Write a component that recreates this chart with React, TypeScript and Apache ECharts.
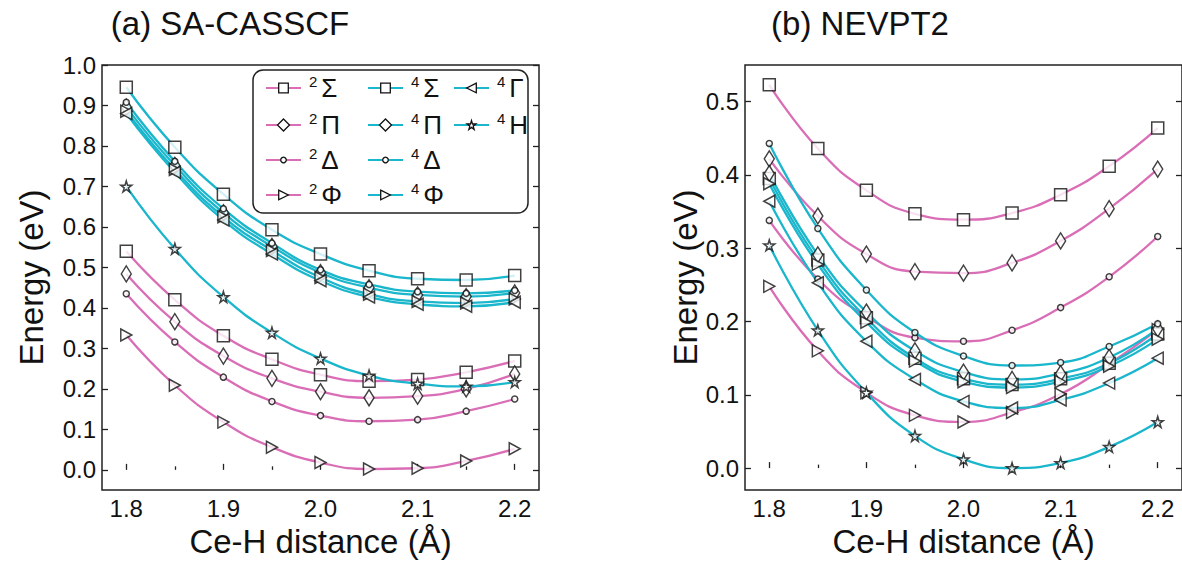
import React, { useEffect, useRef } from "react";
import * as echarts from "echarts";

// Ce–H distances (Å)
const distances = [1.8, 1.85, 1.9, 1.95, 2.0, 2.05, 2.1, 2.15, 2.2];

// State names (legend order)
const stateNames = ["2Σ", "2Π", "2Δ", "2Φ", "4Σ", "4Π", "4Δ", "4Φ", "4Γ", "4H"];

// (a) SA-CASSCF energies (eV)
const cas2Sigma = [0.540, 0.420, 0.331, 0.273, 0.235, 0.219, 0.223, 0.241, 0.269];
const cas2Pi = [0.484, 0.366, 0.281, 0.226, 0.193, 0.178, 0.182, 0.200, 0.237];
const cas2Delta = [0.435, 0.316, 0.229, 0.169, 0.134, 0.120, 0.124, 0.145, 0.175];
const cas2Phi = [0.333, 0.209, 0.118, 0.056, 0.018, 0.002, 0.004, 0.022, 0.052];
const cas4Sigma = [0.945, 0.797, 0.681, 0.593, 0.533, 0.492, 0.472, 0.469, 0.480];
const cas4Pi = [0.896, 0.752, 0.635, 0.552, 0.487, 0.450, 0.432, 0.428, 0.437];
const cas4Delta = [0.908, 0.762, 0.645, 0.560, 0.494, 0.458, 0.440, 0.436, 0.443];
const cas4Phi = [0.886, 0.742, 0.625, 0.542, 0.475, 0.434, 0.416, 0.412, 0.422];
const cas4Gamma = [0.880, 0.735, 0.617, 0.533, 0.467, 0.427, 0.409, 0.404, 0.414];
const cas4H = [0.700, 0.546, 0.427, 0.339, 0.275, 0.233, 0.213, 0.206, 0.217];

// (b) NEVPT2 energies (eV)
const nev2Sigma = [0.523, 0.436, 0.379, 0.347, 0.339, 0.348, 0.373, 0.412, 0.464];
const nev2Pi = [0.422, 0.344, 0.292, 0.268, 0.266, 0.280, 0.310, 0.354, 0.408];
const nev2Delta = [0.338, 0.258, 0.207, 0.178, 0.173, 0.188, 0.219, 0.261, 0.316];
const nev2Phi = [0.248, 0.160, 0.103, 0.072, 0.063, 0.076, 0.101, 0.142, 0.189];
const nev4Sigma = [0.395, 0.284, 0.205, 0.150, 0.122, 0.114, 0.122, 0.143, 0.183];
const nev4Pi = [0.402, 0.291, 0.213, 0.160, 0.131, 0.121, 0.129, 0.151, 0.190];
const nev4Delta = [0.443, 0.327, 0.243, 0.185, 0.153, 0.140, 0.144, 0.166, 0.197];
const nev4Phi = [0.388, 0.278, 0.199, 0.146, 0.118, 0.110, 0.118, 0.139, 0.176];
const nev4Gamma = [0.364, 0.253, 0.173, 0.121, 0.091, 0.082, 0.093, 0.116, 0.150];
const nev4H = [0.304, 0.188, 0.103, 0.044, 0.012, 0.000, 0.007, 0.029, 0.063];

// Tick labels
const xTickValues = [1.8, 1.9, 2.0, 2.1, 2.2];
const xMinorTickValues = [1.85, 1.95, 2.05, 2.15];
const yTicksLeft = [0, 0.1, 0.2, 0.3, 0.4, 0.5, 0.6, 0.7, 0.8, 0.9, 1.0];
const yTicksRight = [0, 0.1, 0.2, 0.3, 0.4, 0.5];

const casscfValues = [cas2Sigma, cas2Pi, cas2Delta, cas2Phi, cas4Sigma, cas4Pi, cas4Delta, cas4Phi, cas4Gamma, cas4H];
const nevpt2Values = [nev2Sigma, nev2Pi, nev2Delta, nev2Phi, nev4Sigma, nev4Pi, nev4Delta, nev4Phi, nev4Gamma, nev4H];

const PINK = "#DA6EB6";
const CYAN = "#1AB6CC";
const FONT = "Liberation Sans, Arial, sans-serif";

const SYM_RIGHT = "path://M0,0L10,5L0,10Z";
const SYM_LEFT = "path://M10,0L0,5L10,10Z";
const SYM_STAR = "path://M50,0L61,35L98,35L68,57L79,91L50,70L21,91L32,57L2,35L39,35Z";

type StyleDef = { color: string; symbol: string; size: number | number[]; legendH: number };
const styleFor = (name: string): StyleDef => {
  const color = name[0] === "2" ? PINK : CYAN;
  const g = name.slice(1);
  if (g === "Σ") return { color, symbol: "rect", size: 12, legendH: 12 };
  if (g === "Π") return { color, symbol: "diamond", size: [10, 16], legendH: 15 };
  if (g === "Δ") return { color, symbol: "circle", size: 6, legendH: 7 };
  if (g === "Φ") return { color, symbol: SYM_RIGHT, size: [11, 12], legendH: 12 };
  if (g === "Γ") return { color, symbol: SYM_LEFT, size: [11, 12], legendH: 12 };
  return { color, symbol: SYM_STAR, size: 11, legendH: 11 };
};

// legend placement (columns / rows)
const legendCols = [265, 367, 453];
const legendRows = [88, 125, 160, 195];
const legendCells: [number, number][] = [
  [0, 0], [0, 1], [0, 2], [0, 3],
  [1, 0], [1, 1], [1, 2], [1, 3],
  [2, 0], [2, 1],
];

const grids = [
  { left: 102, top: 65, width: 437, height: 436 },
  { left: 745, top: 65, width: 442, height: 436 },
];
const yRanges = [
  { min: -0.05, max: 1.0, ticks: yTicksLeft, nameGap: 54 },
  { min: -0.03, max: 0.55, ticks: yTicksRight, nameGap: 40 },
];

export default function App() {
  const ref = useRef<HTMLDivElement>(null);
  useEffect(() => {
    if (!ref.current) return;
    const chart = echarts.init(ref.current, undefined, { renderer: "svg" });

    const axisText = { fontSize: 24, color: "#111", fontFamily: FONT };
    const tickLine = { color: "#222", width: 1.3 };
    const xAxes: any[] = [];
    const yAxes: any[] = [];
    grids.forEach((_, g) => {
      xAxes.push({
        gridIndex: g, type: "value", min: 1.775, max: 2.225, position: "bottom",
        axisLine: { show: false }, splitLine: { show: false },
        axisTick: { inside: true, length: 6, lineStyle: tickLine, customValues: xTickValues },
        axisLabel: { ...axisText, margin: 6, customValues: xTickValues, formatter: (v: number) => v.toFixed(1) },
        name: "Ce-H distance (Å)", nameLocation: "middle", nameGap: 32,
        nameTextStyle: { fontSize: 33, color: "#111", fontFamily: FONT, verticalAlign: "top" },
      });
      xAxes.push({
        gridIndex: g, type: "value", min: 1.775, max: 2.225, position: "bottom",
        axisLine: { show: false }, splitLine: { show: false },
        axisTick: { inside: true, length: 3.5, lineStyle: tickLine, customValues: xMinorTickValues },
        axisLabel: { show: false },
      });
      const yr = yRanges[g];
      yAxes.push({
        gridIndex: g, type: "value", min: yr.min, max: yr.max, position: "left",
        axisLine: { show: false }, splitLine: { show: false },
        axisTick: { inside: true, length: 6, lineStyle: tickLine, customValues: yr.ticks },
        axisLabel: { ...axisText, margin: 6, customValues: yr.ticks, formatter: (v: number) => v.toFixed(1) },
        name: "Energy (eV)", nameLocation: "middle", nameGap: yr.nameGap,
        nameTextStyle: { fontSize: 33, color: "#111", fontFamily: FONT },
      });
      yAxes.push({
        gridIndex: g, type: "value", min: yr.min, max: yr.max, position: "right",
        axisLine: { show: false }, splitLine: { show: false },
        axisTick: { inside: true, length: 6, lineStyle: tickLine, customValues: yr.ticks },
        axisLabel: { show: false },
      });
    });

    const series: any[] = [];
    [casscfValues, nevpt2Values].forEach((set, g) => {
      set.forEach((vals, i) => {
        const name = stateNames[i];
        const st = styleFor(name);
        const data = distances.map((d, k) => [d, vals[k]]);
        series.push({
          type: "line", name, xAxisIndex: g * 2, yAxisIndex: g * 2, data,
          smooth: 0.5, showSymbol: false, symbol: st.symbol, symbolSize: st.size,
          lineStyle: { color: st.color, width: 2.3 },
          itemStyle: { color: "#fff", borderColor: "#111", borderWidth: 1.3 },
          z: 2, silent: true,
        });
        series.push({
          type: "scatter", name: "m" + g + "-" + name, xAxisIndex: g * 2, yAxisIndex: g * 2, data,
          symbol: st.symbol, symbolSize: st.size,
          itemStyle: { color: "#fff", borderColor: "#111", borderWidth: 1.5 },
          z: 3, silent: true,
        });
      });
    });

    const legends = stateNames.map((name, i) => {
      const st = styleFor(name);
      const [c, r] = legendCells[i];
      return {
        show: true, orient: "horizontal", left: legendCols[c], top: legendRows[r] - 14,
        padding: 0, itemWidth: 35, itemHeight: st.legendH, selectedMode: false, z: 10,
        data: [name],
        itemStyle: { borderWidth: 1.3, borderColor: "#111", color: "#fff" },
        formatter: (n: string) => `{s|${n[0]}}{g|${n.slice(1)}}`,
        textStyle: {
          fontFamily: FONT, color: "#111",
          rich: {
            s: { fontSize: 15, lineHeight: 16, verticalAlign: "top", padding: [0, 4, 0, 3], fontFamily: FONT, color: "#111" },
            g: { fontSize: 26, lineHeight: 28, fontFamily: FONT, color: "#111" },
          },
        },
      };
    });

    chart.setOption({
      animation: false,
      backgroundColor: "#fff",
      grid: grids.map((gr) => ({ ...gr, show: true, borderColor: "#222", borderWidth: 1.5, backgroundColor: "transparent" })),
      xAxis: xAxes,
      yAxis: yAxes,
      legend: legends,
      series,
      graphic: [
        { type: "rect", z: 5, shape: { x: 253, y: 70, width: 275, height: 143, r: 10 }, style: { fill: "#fff", stroke: "#222", lineWidth: 1.5 } },
        { type: "text", x: 230, y: 23, style: { text: "(a) SA-CASSCF", fontSize: 33, fontFamily: FONT, fill: "#111", align: "center", verticalAlign: "middle" } },
        { type: "text", x: 860, y: 23, style: { text: "(b) NEVPT2", fontSize: 33, fontFamily: FONT, fill: "#111", align: "center", verticalAlign: "middle" } },
      ],
    });
    return () => chart.dispose();
  }, []);
  return <div ref={ref} style={{ position: "fixed", left: 0, top: 0, width: 1182, height: 563 }} />;
}
